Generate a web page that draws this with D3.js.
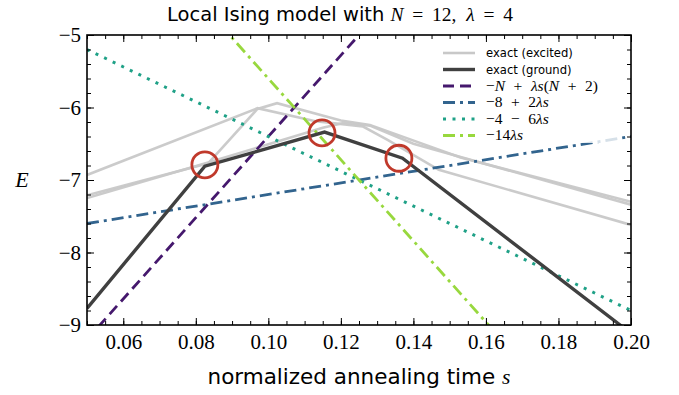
<!DOCTYPE html>
<html>
<head>
<meta charset="utf-8">
<script src="https://cdn.jsdelivr.net/npm/d3@7"></script>
<style>
  body { margin: 0; background: #fff; }
  svg text { fill: #000; }
</style>
</head>
<body>
<div id="chart"></div>
<script>
// ---- data ----
const N = 12, lambda = 4;
const xTicks = [0.06, 0.08, 0.10, 0.12, 0.14, 0.16, 0.18, 0.20];
const yTicks = [-5, -6, -7, -8, -9];

// excited levels as [s, E]
const excitedA = [[0.05, -6.93], [0.097, -6.01], [0.113, -6.19], [0.126, -6.26], [0.133, -6.45], [0.147, -6.86], [0.2, -7.62]];
const excitedB = [[0.05, -7.21], [0.0834, -6.77], [0.097, -6.02], [0.1024, -5.94], [0.12, -6.18], [0.128, -6.24], [0.153, -6.69], [0.2, -7.30]];
const excitedC = [[0.05, -7.25], [0.0834, -6.76], [0.115, -6.28], [0.121, -6.21], [0.128, -6.25], [0.14, -6.5], [0.2, -7.34]];
const ground = [[0.05, -8.77], [0.0825, -6.81], [0.1155, -6.34], [0.137, -6.70], [0.197, -9.0], [0.2, -9.12]];

// crossing points marked with circles
const crossings = [[0.0825, -6.79], [0.1148, -6.35], [0.136, -6.70]];

// straight-line estimates, evaluated at the axis ends
const sEnds = [0.05, 0.2];
const estimates = [
    {name: "purple", f: s => -N + lambda * s * (N + 2)},
    {name: "blue", f: s => -8 + 2 * lambda * s},
    {name: "teal", f: s => -4 - 6 * lambda * s},
    {name: "lime", f: s => -14 * lambda * s}
];

// ---- layout ----
const W = 679, H = 395;
const margin = {top: 35, right: 48, bottom: 70, left: 87};
const width = W - margin.left - margin.right;
const height = H - margin.top - margin.bottom;

const SERIF = "'Liberation Serif', 'DejaVu Serif', serif";
const SANS = "'DejaVu Sans', sans-serif";

const svg = d3.select("#chart").append("svg")
    .attr("width", W).attr("height", H);

const g = svg.append("g")
    .attr("transform", `translate(${margin.left},${margin.top})`);

g.append("defs").append("clipPath").attr("id", "clip")
    .append("rect").attr("width", width).attr("height", height);

const x = d3.scaleLinear().domain([0.05, 0.2]).range([0, width]);
const y = d3.scaleLinear().domain([-9, -5]).range([height, 0]);

const line = d3.line().x(d => x(d[0])).y(d => y(d[1]));

const plot = g.append("g").attr("clip-path", "url(#clip)");

// styles for each series
const styles = {
    excited: {stroke: "#c8c8c8", width: 2.6, dash: null},
    ground: {stroke: "#404040", width: 3.4, dash: null},
    purple: {stroke: "#45186d", width: 2.8, dash: "11,6"},
    blue: {stroke: "#32648e", width: 2.8, dash: "12,5,3,5"},
    teal: {stroke: "#1fa187", width: 3, dash: "3,6.5"},
    lime: {stroke: "#98d83e", width: 2.8, dash: "12,5,3,5"}
};

[excitedA, excitedB, excitedC].forEach(d => {
    plot.append("path").datum(d)
        .attr("d", line).attr("fill", "none")
        .attr("stroke", styles.excited.stroke)
        .attr("stroke-width", styles.excited.width)
        .attr("stroke-opacity", 0.95);
});

estimates.forEach(e => {
    let st = styles[e.name];
    plot.append("path").datum(sEnds.map(s => [s, e.f(s)]))
        .attr("d", line).attr("fill", "none")
        .attr("stroke", st.stroke)
        .attr("stroke-width", st.width)
        .attr("stroke-dasharray", st.dash);
});

plot.append("path").datum(ground)
    .attr("d", line).attr("fill", "none")
    .attr("stroke", styles.ground.stroke)
    .attr("stroke-width", styles.ground.width)
    .attr("stroke-linejoin", "miter");

plot.selectAll("circle.cross").data(crossings).join("circle")
    .attr("class", "cross")
    .attr("cx", d => x(d[0])).attr("cy", d => y(d[1]))
    .attr("r", 13)
    .attr("fill", "none")
    .attr("stroke", "#c0392b")
    .attr("stroke-width", 2.8);

// ---- axes (ticks inside, on all four sides) ----
const xMinor = d3.range(0.05, 0.2001, 0.005);
const yMinor = d3.range(-9, -4.999, 0.2);

function tickSet(axisFn, scale, values, len, showLabels, fmt) {
    return axisFn(scale).tickValues(values).tickSizeInner(-len).tickSizeOuter(0)
        .tickFormat(showLabels ? fmt : "");
}

const xfmt = d3.format(".2f");
const yfmt = d => "\u2212" + Math.abs(d);

// minor
g.append("g").attr("transform", `translate(0,${height})`).call(tickSet(d3.axisBottom, x, xMinor, 4, false));
g.append("g").call(tickSet(d3.axisTop, x, xMinor, 4, false));
g.append("g").call(tickSet(d3.axisLeft, y, yMinor, 4, false));
g.append("g").attr("transform", `translate(${width},0)`).call(tickSet(d3.axisRight, y, yMinor, 4, false));
// major
const xb = g.append("g").attr("transform", `translate(0,${height})`)
    .call(tickSet(d3.axisBottom, x, xTicks, 7, true, xfmt));
g.append("g").call(tickSet(d3.axisTop, x, xTicks, 7, false));
const yl = g.append("g")
    .call(tickSet(d3.axisLeft, y, yTicks, 7, true, yfmt));
g.append("g").attr("transform", `translate(${width},0)`).call(tickSet(d3.axisRight, y, yTicks, 7, false));

g.selectAll(".domain").remove();
g.selectAll(".tick line").attr("stroke", "#000").attr("stroke-width", 1);

xb.selectAll("text").style("font-family", SERIF)
    .style("font-size", "21px").attr("dy", "1.0em").attr("y", 3);
yl.selectAll("text").style("font-family", SERIF)
    .style("font-size", "21px").attr("x", -6).attr("dy", "0.33em");

// frame
g.append("rect").attr("width", width).attr("height", height)
    .attr("fill", "none").attr("stroke", "#000").attr("stroke-width", 1.6);

// ---- text helpers ----
// parts: [text, serif?, italic?, dx in em]
function richText(sel, parts) {
    parts.forEach(p => {
        let t = sel.append("tspan")
            .style("font-family", p[1] ? SERIF : SANS)
            .style("font-style", p[2] ? "italic" : "normal")
            .text(p[0]);
        if (p[3]) t.attr("dx", p[3] + "em");
    });
    return sel;
}

// title
richText(svg.append("text").attr("x", 340).attr("y", 21).attr("text-anchor", "middle").style("font-size", "19.5px"),
    [["Local Ising model with ", false, false], ["N", true, true],
     ["=", true, false, 0.45], ["12,", true, false, 0.45],
     ["\u03bb", true, true, 0.5], ["=", true, false, 0.45], ["4", true, false, 0.45]]);

// axis labels
richText(svg.append("text").attr("x", margin.left + width / 2).attr("y", 384).attr("text-anchor", "middle").style("font-size", "21.5px"),
    [["normalized annealing time ", false, false], ["s", true, true]]);
svg.append("text").attr("x", 22).attr("y", 187).attr("text-anchor", "middle")
    .style("font-family", SERIF).style("font-style", "italic").style("font-size", "22px").text("E");

// ---- legend ----
const gap = 0.55;
const legendItems = [
    {style: styles.excited, math: false, parts: [["exact (excited)", false, false]]},
    {style: styles.ground, math: false, parts: [["exact (ground)", false, false]]},
    {style: styles.purple, math: true, parts: [["\u2212", true, false], ["N", true, true], ["+", true, false, gap], ["\u03bbs", true, true, gap], ["(", true, false], ["N", true, true], ["+", true, false, gap], ["2)", true, false, gap]]},
    {style: styles.blue, math: true, parts: [["\u22128", true, false], ["+", true, false, gap], ["2", true, false, gap], ["\u03bbs", true, true]]},
    {style: styles.teal, math: true, parts: [["\u22124", true, false], ["\u2212", true, false, gap], ["6", true, false, gap], ["\u03bbs", true, true]]},
    {style: styles.lime, math: true, parts: [["\u221214", true, false], ["\u03bbs", true, true]]}
];

const legend = svg.append("g").attr("transform", "translate(440,53)");
legend.append("rect").attr("x", -6).attr("y", -10).attr("width", 186).attr("height", 100)
    .attr("fill", "#fff").attr("fill-opacity", 0.8);

legendItems.forEach((item, i) => {
    let row = legend.append("g").attr("transform", `translate(0,${i * 16.5})`);
    row.append("line").attr("x1", 3).attr("x2", 35).attr("y1", 0).attr("y2", 0)
        .attr("stroke", item.style.stroke)
        .attr("stroke-width", item.style.width)
        .attr("stroke-dasharray", item.style.dash);
    richText(row.append("text").attr("x", 46).attr("y", 0).attr("dy", item.math ? "0.32em" : "0.36em")
        .style("font-size", item.math ? "15.5px" : "11.6px"), item.parts);
});
</script>
</body>
</html>
